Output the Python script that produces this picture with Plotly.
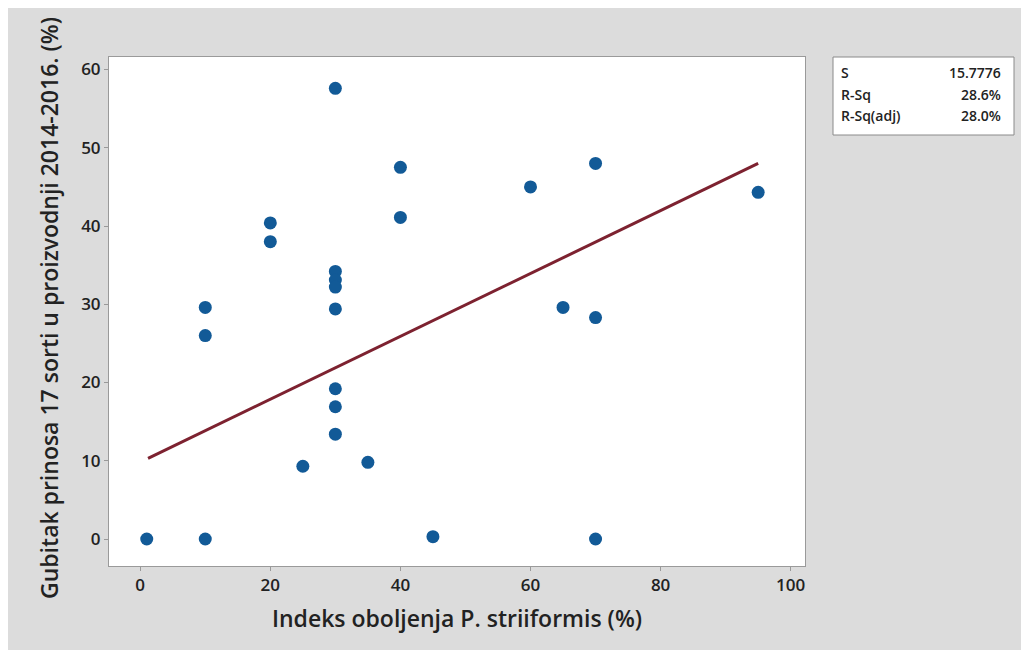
import plotly.graph_objects as go

# Data
disease_index = [1, 10, 10, 10, 20, 20, 25, 30, 30, 30, 30, 30, 30, 30, 30, 35, 40, 40, 45, 60, 65, 70, 70, 70, 95]
yield_loss = [0, 0, 26, 29.6, 38, 40.4, 9.3, 57.6, 34.2, 33.1, 32.2, 29.4, 19.2, 16.9, 13.4, 9.8, 47.5, 41.1, 0.3, 45, 29.6, 48, 28.3, 0, 44.3]
fit_x = [1.2, 95]
fit_y = [10.3, 48.0]
stat_labels = ["S", "R-Sq", "R-Sq(adj)"]
stat_values = ["15.7776", "28.6%", "28.0%"]
x_ticks = [0, 20, 40, 60, 80, 100]
y_ticks = [0, 10, 20, 30, 40, 50, 60]
y_title = "Gubitak prinosa 17 sorti u proizvodnji 2014-2016. (%)"
x_title = "Indeks oboljenja P. striiformis (%)"

W, H = 1021, 652
L, R, T, B = 109, 216, 57, 86

fig = go.Figure()
fig.add_trace(go.Scatter(x=disease_index, y=yield_loss, mode="markers",
                         marker=dict(size=13, color="#125a97"), showlegend=False))
fig.add_trace(go.Scatter(x=fit_x, y=fit_y, mode="lines",
                         line=dict(color="#7d2230", width=3), showlegend=False))

def px_x(p):
    return (p - L) / (W - L - R)

def px_y(p):
    return (H - B - p) / (H - T - B)

shapes = [
    # white page border strips (top, left, bottom)
    dict(type="rect", xref="paper", yref="paper", x0=px_x(0), x1=px_x(W), y0=px_y(8), y1=px_y(0),
         fillcolor="white", line=dict(width=0), layer="below"),
    dict(type="rect", xref="paper", yref="paper", x0=px_x(0), x1=px_x(8), y0=px_y(H), y1=px_y(0),
         fillcolor="white", line=dict(width=0), layer="below"),
    dict(type="rect", xref="paper", yref="paper", x0=px_x(0), x1=px_x(W), y0=px_y(H), y1=px_y(650),
         fillcolor="white", line=dict(width=0), layer="below"),
    # stats box
    dict(type="rect", xref="paper", yref="paper", x0=px_x(833), x1=px_x(1014), y0=px_y(135), y1=px_y(57),
         fillcolor="white", line=dict(color="#8a8a8a", width=1)),
]

annotations = []
rows_y = [73, 94, 115]
for lab, val, ry in zip(stat_labels, stat_values, rows_y):
    annotations.append(dict(xref="paper", yref="paper", x=px_x(839), y=px_y(ry), text=lab,
                            showarrow=False, xanchor="left", yanchor="middle",
                            font=dict(size=14, color="#222", family="Open Sans", weight=600)))
    annotations.append(dict(xref="paper", yref="paper", x=px_x(1003), y=px_y(ry), text=val,
                            showarrow=False, xanchor="right", yanchor="middle",
                            font=dict(size=14, color="#222", family="Open Sans", weight=600)))

annotations.append(dict(xref="paper", yref="paper", x=px_x(49), y=px_y(308), text=y_title,
                        textangle=-90, showarrow=False, xanchor="center", yanchor="middle",
                        font=dict(size=23, color="#222", family="Open Sans", weight=600)))

fig.update_layout(
    width=W, height=H,
    margin=dict(l=L, r=R, t=T, b=B),
    paper_bgcolor="#dcdcdc",
    plot_bgcolor="white",
    font=dict(family="Open Sans", color="#222"),
    shapes=shapes,
    annotations=annotations,
    xaxis=dict(range=[-4.8, 102.2], tickvals=x_ticks, ticks="outside", ticklen=4,
               tickcolor="#999", showgrid=False, zeroline=False, showline=True,
               linecolor="#9a9a9a", linewidth=1, mirror=True,
               tickfont=dict(size=17, color="#222", weight=600),
               title=dict(text=x_title,
                          font=dict(size=23, color="#222", weight=600), standoff=15)),
    yaxis=dict(range=[-3.45, 61.6], tickvals=y_ticks, ticks="outside", ticklen=4,
               tickcolor="#999", showgrid=False, zeroline=False, showline=True,
               linecolor="#9a9a9a", linewidth=1, mirror=True,
               tickfont=dict(size=17, color="#222", weight=600)),
)

fig.write_html("out.html", config={"displayModeBar": False},
               post_script="document.documentElement.style.overflow='hidden';document.body.style.margin='0';")
